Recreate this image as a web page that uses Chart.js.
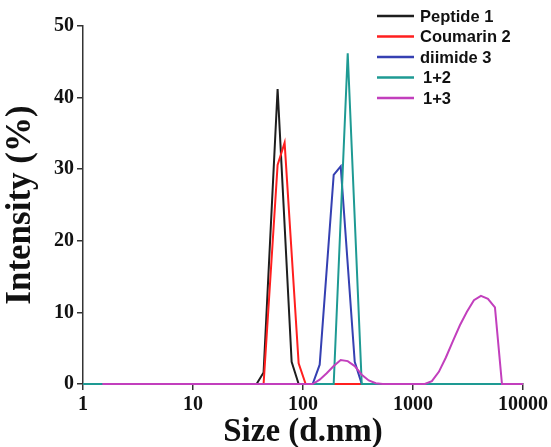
<!DOCTYPE html>
<html>
<head>
<meta charset="utf-8">
<script src="https://cdn.jsdelivr.net/npm/chart.js@4.4.1/dist/chart.umd.min.js"></script>
<style>
  html, body { margin: 0; padding: 0; background: #fff; }
  .chart-container { position: relative; width: 551px; height: 447px; }
</style>
</head>
<body>
<div class="chart-container">
  <canvas id="chart-dls"></canvas>
</div>
<script>
// sizes (d.nm) and intensities (%), one pair per sample
const peptideSize  = [1, 37.84, 43.82, 58.77, 78.82, 91.28, 10000];
const peptideInt   = [0, 0, 1.6, 41.2, 3.1, 0, 0];

const coumarinSize = [1, 43.82, 58.77, 68.06, 91.28, 105.7, 10000];
const coumarinInt  = [0, 0, 30.6, 33.7, 2.9, 0, 0];

const diimideSize  = [1, 122.4, 141.8, 190.1, 220.2, 295.3, 342, 10000];
const diimideInt   = [0, 0, 2.7, 29.2, 30.4, 3.1, 0, 0];

const mix12Size    = [1, 190.1, 255, 342, 10000];
const mix12Int     = [0, 0, 46.2, 0, 0];

const mix13Size    = [1.499, 122.4, 141.8, 164.2, 190.1, 220.2, 255, 295.3, 342, 396.1, 458.7, 531.2,
                      1281, 1484, 1718, 1990, 2305, 2669, 3091, 3580, 4145, 4801, 5560, 6439, 10000];
const mix13Int     = [0, 0, 0.6, 1.5, 2.5, 3.35, 3.2, 2.5, 1.3, 0.5, 0.1, 0,
                      0, 0.4, 1.7, 3.7, 6.0, 8.2, 10.1, 11.7, 12.3, 11.9, 10.7, 0, 0];

const labels = ['Peptide 1', 'Coumarin 2', 'diimide 3', '1+2', '1+3'];
const sizeTicks = [1, 10, 100, 1000, 10000];

const pts = (xs, ys) => xs.map((x, i) => ({ x: x, y: ys[i] }));

const colors = ['#1e1e1e', '#ff1f1f', '#3540b2', '#1e9a93', '#c23fbd'];
const series = [
  pts(peptideSize, peptideInt),
  pts(coumarinSize, coumarinInt),
  pts(diimideSize, diimideInt),
  pts(mix12Size, mix12Int),
  pts(mix13Size, mix13Int)
];
// magenta on top, black at the bottom
const drawOrder = [4, 3, 2, 1, 0];

const serif = '"Liberation Serif", "Times New Roman", serif';

// legend drawn inside the plot, top right
const legendInside = {
  id: 'legendInside',
  afterDraw(chart) {
    const ctx = chart.ctx;
    ctx.save();
    ctx.font = 'bold 16.5px "Liberation Sans", Arial, sans-serif';
    ctx.textBaseline = 'middle';
    ctx.textAlign = 'left';
    chart.data.datasets.forEach((ds, i) => {
      const y = 16 + i * 20.5;
      ctx.strokeStyle = ds.borderColor;
      ctx.lineWidth = 2.5;
      ctx.beginPath();
      ctx.moveTo(377, y);
      ctx.lineTo(414, y);
      ctx.stroke();
      ctx.fillStyle = '#111';
      ctx.fillText(ds.label, i > 2 ? 423 : 420, y + 1);
    });
    ctx.restore();
  }
};

const ctx = document.getElementById('chart-dls').getContext('2d');
new Chart(ctx, {
  type: 'line',
  data: {
    datasets: series.map((d, i) => ({
      label: labels[i],
      data: d,
      borderColor: colors[i],
      backgroundColor: colors[i],
      borderWidth: 2,
      pointRadius: 0,
      tension: 0,
      clip: false,
      order: drawOrder[i]
    }))
  },
  options: {
    animation: false,
    responsive: true,
    maintainAspectRatio: false,
    layout: { padding: { top: 26, right: 28, left: 0, bottom: 0 } },
    plugins: {
      legend: { display: false },
      tooltip: { enabled: false }
    },
    scales: {
      x: {
        type: 'logarithmic',
        min: 1,
        max: 10000,
        afterBuildTicks: (axis) => { axis.ticks = sizeTicks.map(v => ({ value: v })); },
        afterFit: (scale) => { scale.height = 63; },
        ticks: {
          callback: (v) => String(v),
          color: '#111',
          padding: 3,
          maxRotation: 0,
          font: { family: serif, size: 20, weight: 'bold' }
        },
        grid: { drawOnChartArea: false, drawTicks: true, tickLength: 6, color: '#333', lineWidth: 1.5 },
        border: { display: true, color: '#333', width: 1.5 },
        title: {
          display: true,
          text: 'Size (d.nm)',
          color: '#111',
          padding: { top: 0, bottom: -2 },
          font: { family: serif, size: 33, weight: 'bold', lineHeight: 1 }
        }
      },
      y: {
        min: 0,
        max: 50,
        afterFit: (scale) => { scale.width = 83; },
        ticks: {
          stepSize: 10,
          color: '#111',
          padding: 3,
          font: { family: serif, size: 20, weight: 'bold' }
        },
        grid: { drawOnChartArea: false, drawTicks: true, tickLength: 6, color: '#333', lineWidth: 1.5 },
        border: { display: true, color: '#333', width: 1.5 },
        title: {
          display: true,
          text: 'Intensity (%)',
          color: '#111',
          padding: { top: 3, bottom: 0 },
          font: { family: serif, size: 35, weight: 'bold', lineHeight: 1 }
        }
      }
    }
  },
  plugins: [legendInside]
});
</script>
</body>
</html>
